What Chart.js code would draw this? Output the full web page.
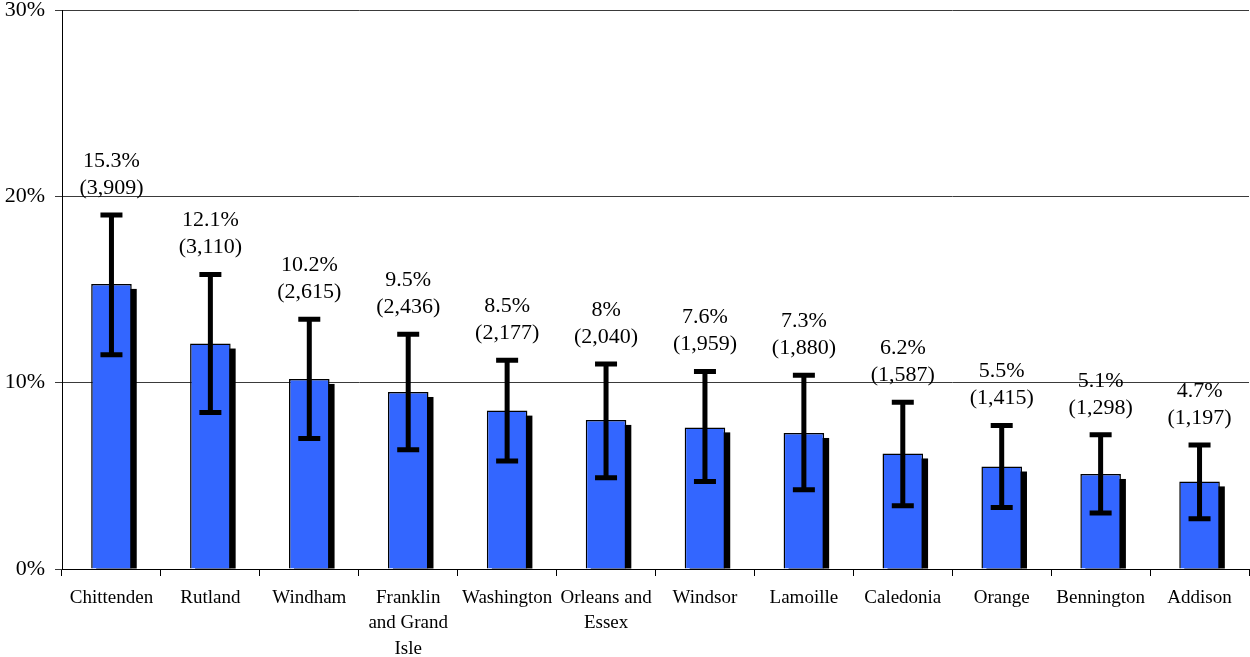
<!DOCTYPE html>
<html>
<head>
<meta charset="utf-8">
<script src="https://cdn.jsdelivr.net/npm/chart.js@4/dist/chart.umd.min.js"></script>
<style>
    html, body { margin: 0; padding: 0; background: #fff; }
    #wrap { width: 1250px; height: 657px; }
</style>
</head>
<body>
<div id="wrap"><canvas id="countyChart" width="1250" height="657"></canvas></div>
<script>
// --- Data ---
const counties = ['Chittenden', 'Rutland', 'Windham', ['Franklin', 'and Grand', 'Isle'], 'Washington',
    ['Orleans and', 'Essex'], 'Windsor', 'Lamoille', 'Caledonia', 'Orange', 'Bennington', 'Addison'];
const percents = [15.3, 12.1, 10.2, 9.5, 8.5, 8, 7.6, 7.3, 6.2, 5.5, 5.1, 4.7];
const counts = ['3,909', '3,110', '2,615', '2,436', '2,177', '2,040', '1,959', '1,880', '1,587', '1,415', '1,298', '1,197'];
const ciHigh = [19.0, 15.8, 13.4, 12.6, 11.2, 11.0, 10.6, 10.4, 8.95, 7.7, 7.2, 6.65];
const ciLow = [11.5, 8.4, 7.0, 6.4, 5.8, 4.9, 4.7, 4.25, 3.4, 3.3, 3.0, 2.7];
const yTicks = [0, 10, 20, 30];

const SERIF = '"Liberation Serif", "Times New Roman", serif';

// shadow to the right of each bar, drawn before the bars
const barShadow = {
    id: 'barShadow',
    beforeDatasetsDraw(chart) {
        const ctx = chart.ctx;
        const meta = chart.getDatasetMeta(0);
        ctx.save();
        ctx.fillStyle = '#000';
        meta.data.forEach(bar => {
            const left = bar.x - bar.width / 2;
            ctx.fillRect(left + 5, bar.y + 5, bar.width, bar.base - bar.y - 5);
        });
        ctx.restore();
    }
};

// error bars + value labels
const errorBars = {
    id: 'errorBars',
    afterDatasetsDraw(chart) {
        const ctx = chart.ctx;
        const y = chart.scales.y;
        const meta = chart.getDatasetMeta(0);
        ctx.save();
        ctx.strokeStyle = '#000';
        ctx.lineWidth = 5;
        ctx.lineCap = 'butt';
        meta.data.forEach((bar, i) => {
            const top = y.getPixelForValue(ciHigh[i]);
            const bot = y.getPixelForValue(ciLow[i]);
            ctx.beginPath();
            ctx.moveTo(bar.x, top);
            ctx.lineTo(bar.x, bot);
            ctx.moveTo(bar.x - 11, top);
            ctx.lineTo(bar.x + 11, top);
            ctx.moveTo(bar.x - 11, bot);
            ctx.lineTo(bar.x + 11, bot);
            ctx.stroke();

            ctx.fillStyle = '#000';
            ctx.font = '22px ' + SERIF;
            ctx.textAlign = 'center';
            ctx.textBaseline = 'middle';
            ctx.fillText(percents[i] + '%', bar.x, top - 54);
            ctx.fillText('(' + counts[i] + ')', bar.x, top - 27);
        });
        ctx.restore();
    }
};

new Chart(document.getElementById('countyChart'), {
    type: 'bar',
    data: {
        labels: counties,
        datasets: [{
            data: percents,
            backgroundColor: '#3366FF',
            borderColor: '#000',
            borderWidth: 1.5,
            barPercentage: 0.41,
            categoryPercentage: 1
        }]
    },
    options: {
        responsive: false,
        animation: false,
        layout: { padding: { top: 10, right: 1, left: 0, bottom: 0 } },
        plugins: {
            legend: { display: false },
            tooltip: { enabled: false }
        },
        scales: {
            y: {
                min: 0,
                max: 30,
                afterBuildTicks: scale => { scale.ticks = yTicks.map(v => ({ value: v })); },
                afterFit: scale => {
                    scale.width = 62;
                    scale.paddingTop = 0;
                    scale.paddingBottom = 0;
                },
                ticks: {
                    callback: v => v + '%',
                    color: '#000',
                    font: { family: SERIF, size: 22 },
                    padding: 10
                },
                grid: { color: '#3a3a3a', lineWidth: 1, tickLength: 7 },
                border: { color: '#000', width: 1 }
            },
            x: {
                afterFit: scale => { scale.height = 88; },
                ticks: {
                    color: '#000',
                    font: { family: SERIF, size: 19, lineHeight: 1.34 },
                    padding: 9,
                    maxRotation: 0,
                    autoSkip: false
                },
                grid: { offset: true, drawOnChartArea: false, color: '#000', tickLength: 7 },
                border: { color: '#000', width: 1 }
            }
        }
    },
    plugins: [barShadow, errorBars]
});
</script>
</body>
</html>
